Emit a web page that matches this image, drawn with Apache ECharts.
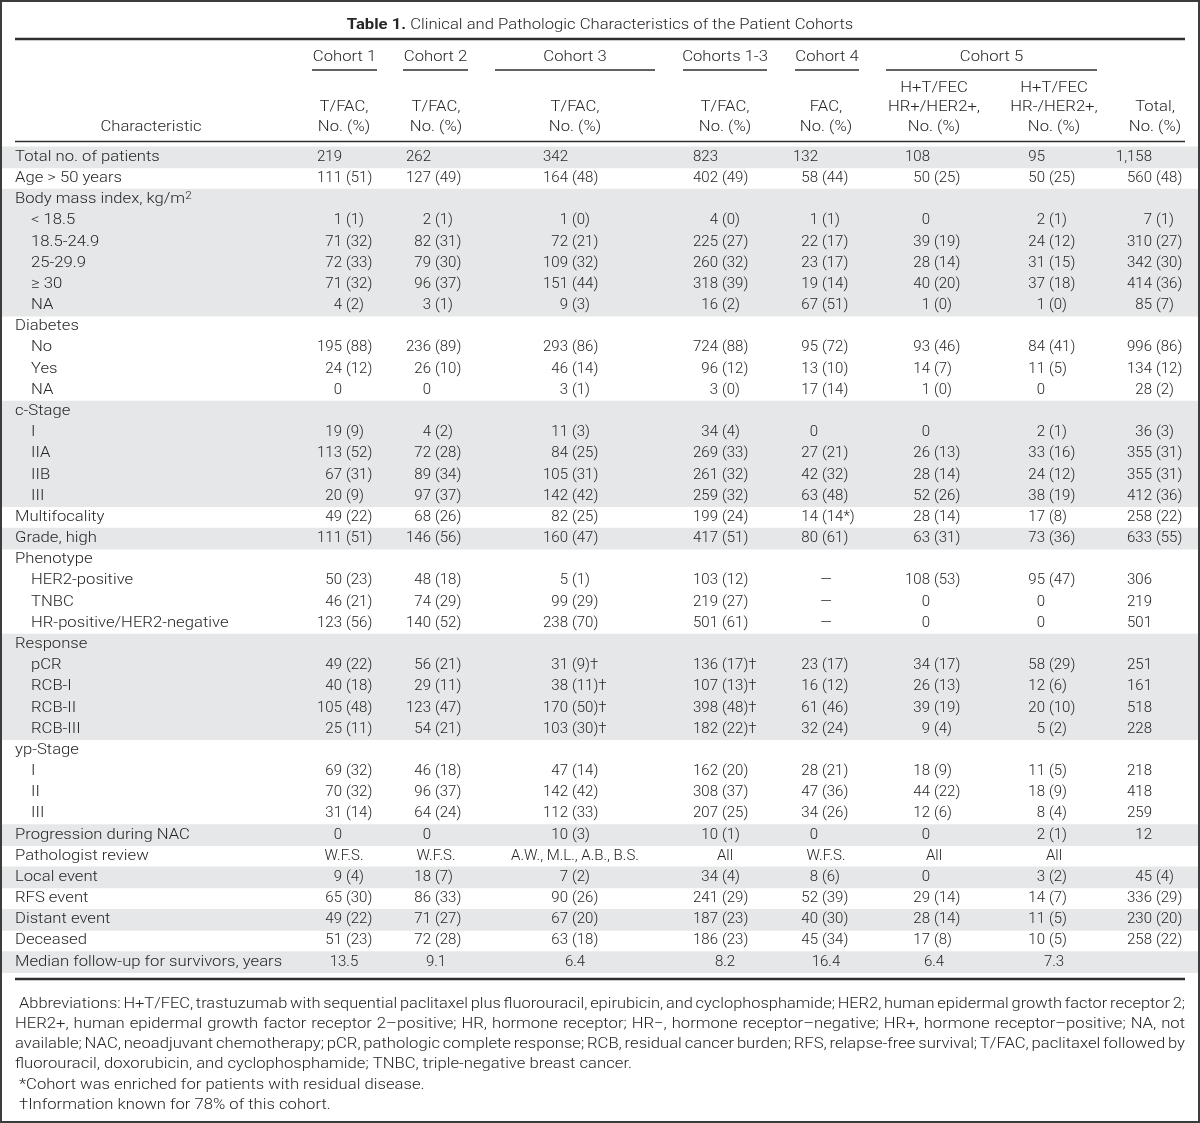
<!DOCTYPE html>
<html><head><meta charset="utf-8">
<script src="https://cdn.jsdelivr.net/npm/echarts@6/dist/echarts.min.js"></script>
<style>html,body{margin:0;padding:0;background:#fff}#chart{width:1200px;height:1123px}</style>
</head><body><div id="chart"></div>
<script>
// ---------------- DATA ----------------
const titleBold = "Table 1.";
const titleText = "Clinical and Pathologic Characteristics of the Patient Cohorts";
const groupHeaders = ["Cohort 1", "Cohort 2", "Cohort 3", "Cohorts 1-3", "Cohort 4", "Cohort 5"];
const colHeaderLine1 = ["", "", "", "", "", "H+T/FEC", "H+T/FEC", ""];
const colHeaderLine2 = ["T/FAC,", "T/FAC,", "T/FAC,", "T/FAC,", "FAC,", "HR+/HER2+,", "HR-/HER2+,", "Total,"];
const colHeaderLine3 = ["No. (%)", "No. (%)", "No. (%)", "No. (%)", "No. (%)", "No. (%)", "No. (%)", "No. (%)"];
const stubHeader = "Characteristic";

const rowLabels = [
  "Total no. of patients", "Age > 50 years", "Body mass index, kg/m²", "< 18.5", "18.5-24.9", "25-29.9", "≥ 30", "NA",
  "Diabetes", "No", "Yes", "NA",
  "c-Stage", "I", "IIA", "IIB", "III",
  "Multifocality", "Grade, high",
  "Phenotype", "HER2-positive", "TNBC", "HR-positive/HER2-negative",
  "Response", "pCR", "RCB-I", "RCB-II", "RCB-III",
  "yp-Stage", "I", "II", "III",
  "Progression during NAC", "Pathologist review", "Local event", "RFS event", "Distant event", "Deceased",
  "Median follow-up for survivors, years"
];
// 0 = main row, 1 = sub-item of the preceding main row
const rowLevel = [0,0,0,1,1,1,1,1,0,1,1,1,0,1,1,1,1,0,0,0,1,1,1,0,1,1,1,1,0,1,1,1,0,0,0,0,0,0,0];

const cohort1 = ["219","111 (51)","","1 (1)","71 (32)","72 (33)","71 (32)","4 (2)",
  "","195 (88)","24 (12)","0",
  "","19 (9)","113 (52)","67 (31)","20 (9)",
  "49 (22)","111 (51)",
  "","50 (23)","46 (21)","123 (56)",
  "","49 (22)","40 (18)","105 (48)","25 (11)",
  "","69 (32)","70 (32)","31 (14)",
  "0","W.F.S.","9 (4)","65 (30)","49 (22)","51 (23)","13.5"];
const cohort2 = ["262","127 (49)","","2 (1)","82 (31)","79 (30)","96 (37)","3 (1)",
  "","236 (89)","26 (10)","0",
  "","4 (2)","72 (28)","89 (34)","97 (37)",
  "68 (26)","146 (56)",
  "","48 (18)","74 (29)","140 (52)",
  "","56 (21)","29 (11)","123 (47)","54 (21)",
  "","46 (18)","96 (37)","64 (24)",
  "0","W.F.S.","18 (7)","86 (33)","71 (27)","72 (28)","9.1"];
const cohort3 = ["342","164 (48)","","1 (0)","72 (21)","109 (32)","151 (44)","9 (3)",
  "","293 (86)","46 (14)","3 (1)",
  "","11 (3)","84 (25)","105 (31)","142 (42)",
  "82 (25)","160 (47)",
  "","5 (1)","99 (29)","238 (70)",
  "","31 (9)†","38 (11)†","170 (50)†","103 (30)†",
  "","47 (14)","142 (42)","112 (33)",
  "10 (3)","A.W., M.L., A.B., B.S.","7 (2)","90 (26)","67 (20)","63 (18)","6.4"];
const cohorts1to3 = ["823","402 (49)","","4 (0)","225 (27)","260 (32)","318 (39)","16 (2)",
  "","724 (88)","96 (12)","3 (0)",
  "","34 (4)","269 (33)","261 (32)","259 (32)",
  "199 (24)","417 (51)",
  "","103 (12)","219 (27)","501 (61)",
  "","136 (17)†","107 (13)†","398 (48)†","182 (22)†",
  "","162 (20)","308 (37)","207 (25)",
  "10 (1)","All","34 (4)","241 (29)","187 (23)","186 (23)","8.2"];
const cohort4 = ["132","58 (44)","","1 (1)","22 (17)","23 (17)","19 (14)","67 (51)",
  "","95 (72)","13 (10)","17 (14)",
  "","0","27 (21)","42 (32)","63 (48)",
  "14 (14*)","80 (61)",
  "","—","—","—",
  "","23 (17)","16 (12)","61 (46)","32 (24)",
  "","28 (21)","47 (36)","34 (26)",
  "0","W.F.S.","8 (6)","52 (39)","40 (30)","45 (34)","16.4"];
const cohort5HRpos = ["108","50 (25)","","0","39 (19)","28 (14)","40 (20)","1 (0)",
  "","93 (46)","14 (7)","1 (0)",
  "","0","26 (13)","28 (14)","52 (26)",
  "28 (14)","63 (31)",
  "","108 (53)","0","0",
  "","34 (17)","26 (13)","39 (19)","9 (4)",
  "","18 (9)","44 (22)","12 (6)",
  "0","All","0","29 (14)","28 (14)","17 (8)","6.4"];
const cohort5HRneg = ["95","50 (25)","","2 (1)","24 (12)","31 (15)","37 (18)","1 (0)",
  "","84 (41)","11 (5)","0",
  "","2 (1)","33 (16)","24 (12)","38 (19)",
  "17 (8)","73 (36)",
  "","95 (47)","0","0",
  "","58 (29)","12 (6)","20 (10)","5 (2)",
  "","11 (5)","18 (9)","8 (4)",
  "2 (1)","All","3 (2)","14 (7)","11 (5)","10 (5)","7.3"];
const totalCol = ["1,158","560 (48)","","7 (1)","310 (27)","342 (30)","414 (36)","85 (7)",
  "","996 (86)","134 (12)","28 (2)",
  "","36 (3)","355 (31)","355 (31)","412 (36)",
  "258 (22)","633 (55)",
  "","306","219","501",
  "","251","161","518","228",
  "","218","418","259",
  "12","","45 (4)","336 (29)","230 (20)","258 (22)",""];

const footnoteLines = [
  "Abbreviations: H+T/FEC, trastuzumab with sequential paclitaxel plus fluorouracil, epirubicin, and cyclophosphamide; HER2, human epidermal growth factor receptor 2;",
  "HER2+, human epidermal growth factor receptor 2–positive; HR, hormone receptor; HR−, hormone receptor–negative; HR+, hormone receptor–positive; NA, not",
  "available; NAC, neoadjuvant chemotherapy; pCR, pathologic complete response; RCB, residual cancer burden; RFS, relapse-free survival; T/FAC, paclitaxel followed by",
  "fluorouracil, doxorubicin, and cyclophosphamide; TNBC, triple-negative breast cancer.",
  "*Cohort was enriched for patients with residual disease.",
  "†Information known for 78% of this cohort."
];

// ---------------- LAYOUT / STYLE ----------------
const columns = [cohort1, cohort2, cohort3, cohorts1to3, cohort4, cohort5HRpos, cohort5HRneg, totalCol];
const colCenter = [344, 436, 575, 725, 826, 934, 1054, 1155];
const colAnchor = [342, 431, 568, 718, 818, 930, 1045, 1152];
const groupSpans = [[312,377],[403,468],[495,655],[683,767],[795,859],[886,1097]];
const FONT = 'Roboto';
const FW = 300;
const FS = 15;
const SX = 1.11;          // horizontal stretch for word text (source face is wider than Roboto)
const TXT = '#262626';
const SHADE = '#e6e7e8';
const RULE = '#2e2e2e';
const SPACE = 4;

// shaded groups alternate, starting with the first group shaded
const shadedRows = [];
{
  let g = -1;
  rowLevel.forEach((lv, i) => { if (lv === 0) g++; if (g % 2 === 0) shadedRows.push(i); });
}

const cellData = [], cellText = [];
columns.forEach((col, c) => col.forEach((t, r) => { if (t !== '') { cellData.push([c, r]); cellText.push(t); } }));

const labelData = rowLabels.map((l, r) => [rowLevel[r], r]);

function txtStyle(extra) {
  return Object.assign({ fontFamily: FONT, fontWeight: FW, fontSize: FS, fill: TXT }, extra || {});
}

// ---------------- GRAPHIC (title, headers, rules, notes) ----------------
const graphics = [];
graphics.push({ type: 'rect', shape: { x: 1, y: 1, width: 1198, height: 1121 }, style: { fill: 'none', stroke: '#3c3c3c', lineWidth: 2 }, z: 100 });
graphics.push({ type: 'text', x: 600, y: 25, scaleX: SX, style: {
  text: '{b|' + titleBold + '} ' + titleText, align: 'center', verticalAlign: 'middle',
  fontFamily: FONT, fontWeight: FW, fontSize: FS, fill: TXT,
  rich: { b: { fontFamily: FONT, fontWeight: 'bold', fontSize: FS, fill: TXT } } } });
graphics.push({ type: 'line', shape: { x1: 15, y1: 39, x2: 1185, y2: 39 }, style: { stroke: RULE, lineWidth: 2.5 } });
graphics.push({ type: 'line', shape: { x1: 15, y1: 141.5, x2: 1185, y2: 141.5 }, style: { stroke: RULE, lineWidth: 1.5 } });
graphics.push({ type: 'line', shape: { x1: 15, y1: 979, x2: 1185, y2: 979 }, style: { stroke: RULE, lineWidth: 2.5 } });
groupHeaders.forEach((h, i) => {
  const [a, b] = groupSpans[i];
  graphics.push({ type: 'text', x: (a + b) / 2, y: 57, scaleX: SX, style: txtStyle({ text: h, align: 'center', verticalAlign: 'middle' }) });
  graphics.push({ type: 'line', shape: { x1: a, y1: 70, x2: b, y2: 70 }, style: { stroke: RULE, lineWidth: 1.3 } });
});
[colHeaderLine1, colHeaderLine2, colHeaderLine3].forEach((line, li) => {
  line.forEach((t, c) => { if (t) graphics.push({ type: 'text', x: colCenter[c], y: 88 + li * 19.5, scaleX: SX, style: txtStyle({ text: t, align: 'center', verticalAlign: 'middle' }) }); });
});
graphics.push({ type: 'text', x: 151, y: 127, scaleX: SX, style: txtStyle({ text: stubHeader, align: 'center', verticalAlign: 'middle' }) });

// footnotes, justified like the source
const mctx = document.createElement('canvas').getContext('2d');
mctx.font = FW + ' ' + FS + 'px ' + FONT;
function justified(text, x0, x1, y) {
  const words = text.split(' ');
  const widths = words.map(w => mctx.measureText(w).width * SX);
  const sum = widths.reduce((a, b) => a + b, 0);
  const gaps = words.length - 1;
  let gap = (x1 - x0 - sum) / gaps, scale = 1;
  if (gap < 2.8) { gap = 2.8; scale = (x1 - x0) / (sum + gap * gaps); }
  const children = []; let x = 0;
  words.forEach((w, i) => { children.push({ type: 'text', x: x, y: 0, scaleX: SX, style: txtStyle({ text: w, align: 'left', verticalAlign: 'middle' }) }); x += widths[i] + gap; });
  return { type: 'group', x: x0, y: y, scaleX: scale, children: children };
}
const fnStartX = [19, 15, 15, 15, 19, 19];
footnoteLines.forEach((t, i) => {
  const y = 1004 + i * 20.2;
  if (i < 3) graphics.push(justified(t, fnStartX[i], 1185, y));
  else graphics.push({ type: 'text', x: fnStartX[i], y: y, scaleX: SX, style: txtStyle({ text: t, align: 'left', verticalAlign: 'middle' }) });
});

// ---------------- CHART ----------------
const chart = echarts.init(document.getElementById('chart'), null, { renderer: 'canvas' });
const isCount = s => /^[\d,]+( \(.*\).*)?$/.test(s);

chart.setOption({
  animation: false,
  grid: { left: 0, right: 0, top: 146.5, height: 826 },
  xAxis: { type: 'value', min: 0, max: 1200, show: false },
  yAxis: { type: 'category', data: rowLabels, inverse: true, show: false },
  graphic: { elements: graphics },
  series: [
    {
      type: 'custom', silent: true, z: 1,
      data: shadedRows.map(r => [0, r]),
      renderItem: (params, api) => {
        const y = api.coord([0, api.value(1)])[1];
        const h = api.size([0, 1])[1];
        return { type: 'rect', shape: { x: 2, y: y - h / 2, width: 1196, height: h + 0.5 }, style: { fill: SHADE } };
      }
    },
    {
      type: 'custom', silent: true, z: 3,
      data: labelData,
      renderItem: (params, api) => {
        const r = api.value(1);
        const p = api.coord([15 + api.value(0) * 16, r]);
        const label = rowLabels[r].replace('²', '{sup|2}');
        return { type: 'text', x: p[0], y: p[1], scaleX: SX, style: txtStyle({
          text: label, align: 'left', verticalAlign: 'middle', lineHeight: 18,
          rich: { sup: { fontFamily: FONT, fontWeight: FW, fontSize: 10.5, fill: TXT, verticalAlign: 'top', lineHeight: 18 } } }) };
      }
    },
    {
      type: 'custom', silent: true, z: 3,
      data: cellData,
      renderItem: (params, api) => {
        const c = api.value(0), r = api.value(1);
        const t = cellText[params.dataIndex];
        if (isCount(t)) {
          const sp = t.indexOf(' ');
          const main = sp < 0 ? t : t.slice(0, sp);
          const tail = sp < 0 ? '' : t.slice(sp + 1);
          const p = api.coord([colAnchor[c], r]);
          const kids = [{ type: 'text', x: p[0], y: p[1], style: txtStyle({ text: main, align: 'right', verticalAlign: 'middle' }) }];
          if (tail) kids.push({ type: 'text', x: p[0] + SPACE, y: p[1], style: txtStyle({ text: tail, align: 'left', verticalAlign: 'middle' }) });
          return { type: 'group', children: kids };
        }
        const p = api.coord([colCenter[c], r]);
        return { type: 'text', x: p[0], y: p[1], style: txtStyle({ text: t, align: 'center', verticalAlign: 'middle' }) };
      }
    }
  ]
});
</script>
</body></html>
